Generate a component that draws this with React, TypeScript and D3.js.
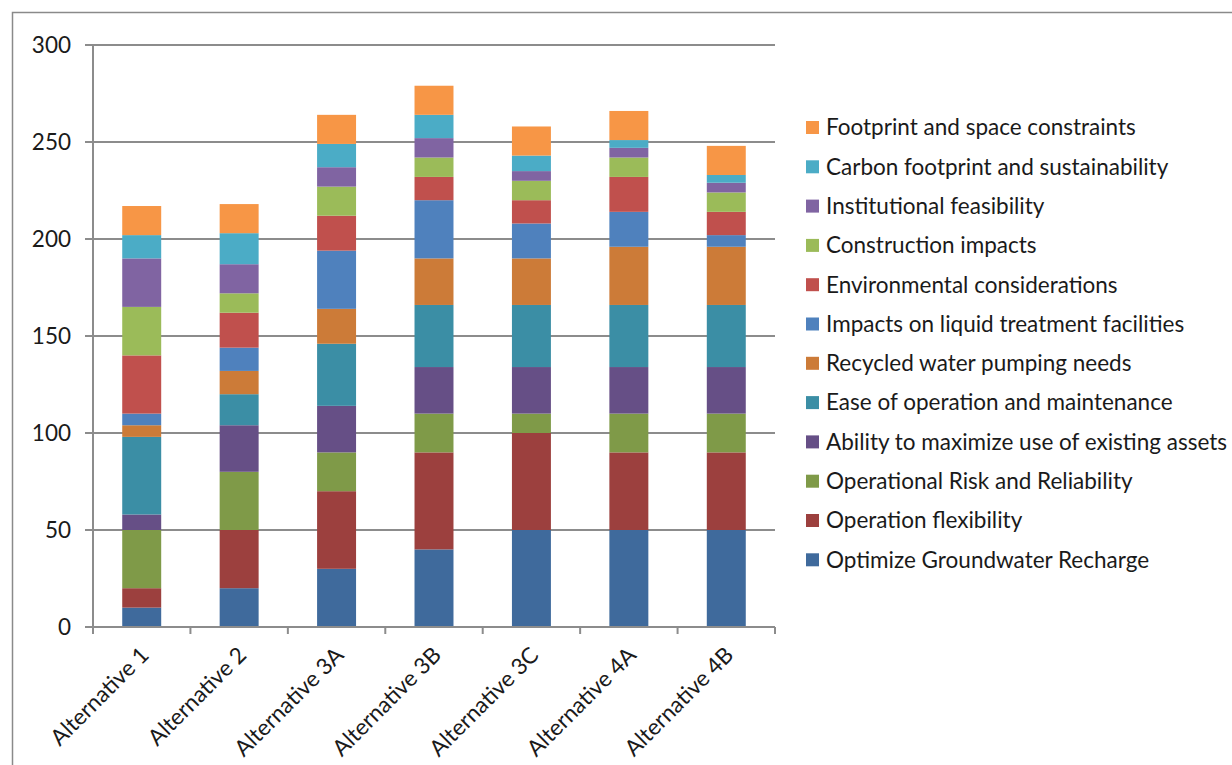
import React from "react";
import * as d3 from "d3";

const categories = [
  "Alternative 1",
  "Alternative 2",
  "Alternative 3A",
  "Alternative 3B",
  "Alternative 3C",
  "Alternative 4A",
  "Alternative 4B",
];

const seriesNames = [
  "Optimize Groundwater Recharge",
  "Operation flexibility",
  "Operational Risk and Reliability",
  "Ability to maximize use of existing assets",
  "Ease of operation and maintenance",
  "Recycled water pumping needs",
  "Impacts on liquid treatment facilities",
  "Environmental considerations",
  "Construction impacts",
  "Institutional feasibility",
  "Carbon footprint and sustainability",
  "Footprint and space constraints",
];

const seriesColors = [
  "#3F6A9C",
  "#9C403E",
  "#7F9A48",
  "#664F86",
  "#3B8EA5",
  "#CC7B38",
  "#4F81BD",
  "#C0504D",
  "#9BBB59",
  "#8064A2",
  "#4BACC6",
  "#F79646",
];

// scores per criterion, one value per alternative
const groundwaterRecharge = [10, 20, 30, 40, 50, 50, 50];
const operationFlexibility = [10, 30, 40, 50, 50, 40, 40];
const operationalRisk = [30, 30, 20, 20, 10, 20, 20];
const existingAssets = [8, 24, 24, 24, 24, 24, 24];
const easeOfOperation = [40, 16, 32, 32, 32, 32, 32];
const pumpingNeeds = [6, 12, 18, 24, 24, 30, 30];
const liquidTreatment = [6, 12, 30, 30, 18, 18, 6];
const environmental = [30, 18, 18, 12, 12, 18, 12];
const construction = [25, 10, 15, 10, 10, 10, 10];
const institutional = [25, 15, 10, 10, 5, 5, 5];
const carbonFootprint = [12, 16, 12, 12, 8, 4, 4];
const spaceConstraints = [15, 15, 15, 15, 15, 15, 15];

const seriesValues = [
  groundwaterRecharge,
  operationFlexibility,
  operationalRisk,
  existingAssets,
  easeOfOperation,
  pumpingNeeds,
  liquidTreatment,
  environmental,
  construction,
  institutional,
  carbonFootprint,
  spaceConstraints,
];

const yTicks = [0, 50, 100, 150, 200, 250, 300];

const W = 1232;
const H = 765;
const FONT = "Lato, 'Open Sans', sans-serif";
const FONT_SIZE = 22.5;
const TEXT_COLOR = "#1a1a1a";

export default function App() {
  const plotLeft = 93;
  const plotRight = 775;
  const plotTop = 45;
  const plotBottom = 627;

  const x = d3
    .scaleBand<string>()
    .domain(categories)
    .range([plotLeft, plotRight])
    .paddingInner(0.6)
    .paddingOuter(0.3);
  const band = d3
    .scaleBand<string>()
    .domain(categories)
    .range([plotLeft, plotRight]);
  const y = d3.scaleLinear().domain([0, 300]).range([plotBottom, plotTop]);

  const rows = categories.map((c, i) => {
    const r: Record<string, number | string> = { category: c };
    seriesNames.forEach((s, k) => (r[s] = seriesValues[k][i]));
    return r;
  });
  const stacked = d3.stack<any>().keys(seriesNames)(rows);

  const barW = x.bandwidth();
  const gridColor = "#8C8C8C";

  const legendX = 806;
  const legendTop = 127.5;
  const legendStep = 39.3;
  const legendOrder = [...seriesNames.keys()].reverse();

  return (
    <svg width={W} height={H} style={{ position: "absolute", left: 0, top: 0 }}>
      <rect x={0} y={0} width={W} height={H} fill="#fff" />
      {/* chart frame */}
      <path d={`M12.5,${H} V12.5 H${W}`} fill="none" stroke="#8A8A8A" strokeWidth={1.5} />

      {/* gridlines */}
      {yTicks.map((t) => (
        <line
          key={t}
          x1={plotLeft - 8}
          x2={plotRight}
          y1={y(t)}
          y2={y(t)}
          stroke={gridColor}
          strokeWidth={2}
        />
      ))}
      {yTicks.map((t) => (
        <text
          key={"l" + t}
          x={71}
          y={y(t)}
          dy="0.35em"
          textAnchor="end"
          fontFamily={FONT}
          fontSize={FONT_SIZE}
          fill={TEXT_COLOR}
        >
          {t}
        </text>
      ))}

      {/* bars */}
      {stacked.map((layer, k) => (
        <g key={layer.key} fill={seriesColors[k]}>
          {layer.map((d, i) => (
            <rect
              key={i}
              x={x(categories[i])}
              y={y(d[1])}
              width={barW}
              height={y(d[0]) - y(d[1])}
            />
          ))}
        </g>
      ))}

      {/* axes */}
      <line x1={plotLeft} x2={plotLeft} y1={plotTop} y2={plotBottom} stroke={gridColor} strokeWidth={2} />
      <line x1={plotLeft} x2={plotRight} y1={plotBottom} y2={plotBottom} stroke={gridColor} strokeWidth={2} />
      {[...categories.map((c) => band(c)!), plotRight].map((px, i) => (
        <line key={i} x1={px} x2={px} y1={plotBottom} y2={plotBottom + 7} stroke={gridColor} strokeWidth={2} />
      ))}
      {categories.map((c) => {
        const cx = band(c)! + band.bandwidth() / 2;
        return (
          <text
            key={c}
            transform={`translate(${cx + 3},${plotBottom + 24}) rotate(-45)`}
            textAnchor="end"
            dy="0.35em"
            fontFamily={FONT}
            fontSize={FONT_SIZE}
            fill={TEXT_COLOR}
          >
            {c}
          </text>
        );
      })}

      {/* legend */}
      {legendOrder.map((k, j) => {
        const cy = legendTop + j * legendStep;
        return (
          <g key={seriesNames[k]}>
            <rect x={legendX} y={cy - 6.5} width={13} height={13} fill={seriesColors[k]} />
            <text
              x={legendX + 20}
              y={cy}
              dy="0.35em"
              fontFamily={FONT}
              fontSize={FONT_SIZE}
              fill={TEXT_COLOR}
            >
              {seriesNames[k]}
            </text>
          </g>
        );
      })}
    </svg>
  );
}
